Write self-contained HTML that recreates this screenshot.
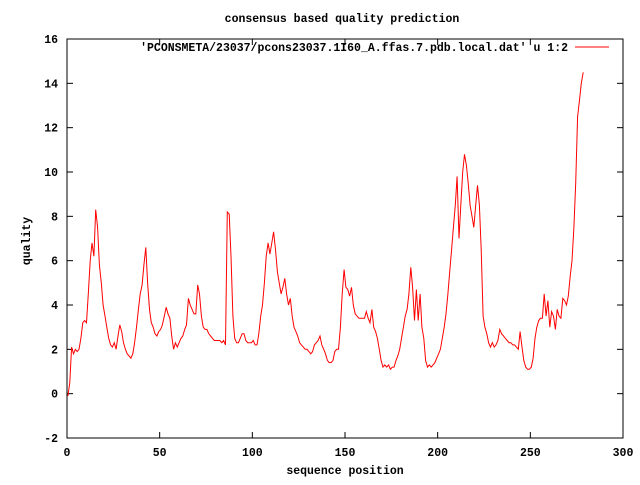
<!DOCTYPE html>
<html><head><meta charset="utf-8"><style>
body{margin:0;background:#fff}
svg text{font-family:"Liberation Mono",monospace;font-size:11.5px;font-weight:bold;fill:#000}
</style></head><body>
<svg id="c" width="640" height="480" xmlns="http://www.w3.org/2000/svg">
<rect width="640" height="480" fill="#fff"/>
<text x="342" y="22" text-anchor="middle">consensus based quality prediction</text>
<text x="345" y="474" text-anchor="middle">sequence position</text>
<text x="30" y="241" text-anchor="middle" transform="rotate(-90 30 241)">quality</text>
<g id="axes"></g>
<text x="568" y="51" text-anchor="end">'PCONSMETA/23037/pcons23037.1I60_A.ffas.7.pdb.local.dat' u 1:2</text>
<line x1="575" y1="47" x2="609" y2="47" stroke="#f00" stroke-width="1"/>
<path id="line" fill="none" stroke="#f00" stroke-width="1"/>
</svg>
<script>
const xTicks=[0,50,100,150,200,250,300];
const yTicks=[-2,0,2,4,6,8,10,12,14,16];
const values=[-0.1,0.5,2.1,1.8,2.0,1.9,2.0,2.5,3.2,3.3,3.2,4.5,6.0,6.8,6.2,8.3,7.5,5.8,5.0,4.0,3.5,3.0,2.5,2.2,2.1,2.3,2.0,2.6,3.1,2.8,2.3,2.0,1.8,1.7,1.6,1.8,2.3,3.0,3.8,4.5,4.9,5.8,6.6,5.0,3.8,3.2,3.0,2.7,2.6,2.8,2.9,3.1,3.5,3.9,3.6,3.4,2.6,2.0,2.3,2.1,2.3,2.5,2.6,2.9,3.1,4.3,4.0,3.8,3.6,3.6,4.9,4.5,3.5,3.0,2.9,2.9,2.7,2.6,2.5,2.4,2.4,2.4,2.4,2.3,2.4,2.2,8.2,8.1,6.2,3.5,2.5,2.3,2.3,2.5,2.7,2.7,2.4,2.3,2.3,2.3,2.4,2.2,2.2,2.7,3.5,4.0,5.0,6.2,6.8,6.3,6.8,7.3,6.5,5.5,5.0,4.5,4.8,5.2,4.5,4.0,4.3,3.5,3.0,2.8,2.6,2.3,2.2,2.1,2.0,2.0,1.9,1.8,1.9,2.2,2.3,2.4,2.6,2.2,2.0,1.8,1.5,1.4,1.4,1.5,1.9,2.0,2.0,3.0,4.5,5.6,4.8,4.7,4.4,4.8,4.0,3.6,3.5,3.4,3.4,3.4,3.4,3.7,3.4,3.2,3.8,3.0,2.8,2.5,2.0,1.5,1.2,1.3,1.2,1.3,1.1,1.2,1.2,1.5,1.7,2.0,2.5,3.0,3.5,3.8,4.5,5.7,4.8,3.3,4.7,3.3,4.5,3.0,2.5,1.5,1.2,1.3,1.2,1.3,1.4,1.6,1.8,2.0,2.5,3.0,3.6,4.5,5.5,6.5,7.5,8.5,9.8,7.0,8.5,10.0,10.8,10.3,9.5,8.5,8.0,7.5,8.5,9.4,8.5,6.5,3.5,3.0,2.7,2.3,2.1,2.3,2.1,2.2,2.4,2.9,2.7,2.6,2.5,2.4,2.3,2.3,2.2,2.2,2.1,2.0,2.8,2.1,1.5,1.2,1.1,1.1,1.2,1.6,2.5,3.0,3.3,3.4,3.4,4.5,3.5,4.2,3.0,3.7,3.5,2.9,3.8,3.5,3.4,4.3,4.2,4.0,4.4,5.3,6.0,7.5,9.5,12.5,13.2,14.0,14.5];
const L=67,R=623,T=39,B=438;
const xs=v=>L+(v-0)/(300-0)*(R-L);
const ys=v=>B-(v+2)/18*(B-T);
const NS="http://www.w3.org/2000/svg";
const g=document.getElementById('axes');
function mk(tag,attrs){const e=document.createElementNS(NS,tag);for(const k in attrs)e.setAttribute(k,attrs[k]);g.appendChild(e);return e;}
const frame=mk('rect',{x:L,y:T,width:R-L,height:B-T,fill:'none',stroke:'#000','stroke-width':1});


xTicks.forEach(t=>{const x=xs(t);
const a=mk('line',{x1:x,y1:B,x2:x,y2:B-6,stroke:'#000'});


const b=mk('line',{x1:x,y1:T,x2:x,y2:T+6,stroke:'#000'});


const tx=mk('text',{x:x,y:B+18,'text-anchor':'middle'});tx.textContent=t;


});
yTicks.forEach(t=>{const y=ys(t);
const a=mk('line',{x1:L,y1:y,x2:L+6,y2:y,stroke:'#000'});


const b=mk('line',{x1:R,y1:y,x2:R-6,y2:y,stroke:'#000'});


const tx=mk('text',{x:L-9,y:y+4,'text-anchor':'end'});tx.textContent=t;


});
document.getElementById('line').setAttribute('d',values.map((v,i)=>(i?'L':'M')+xs(i+0.5).toFixed(1)+' '+ys(v).toFixed(1)).join(''));
</script>
</body></html>
